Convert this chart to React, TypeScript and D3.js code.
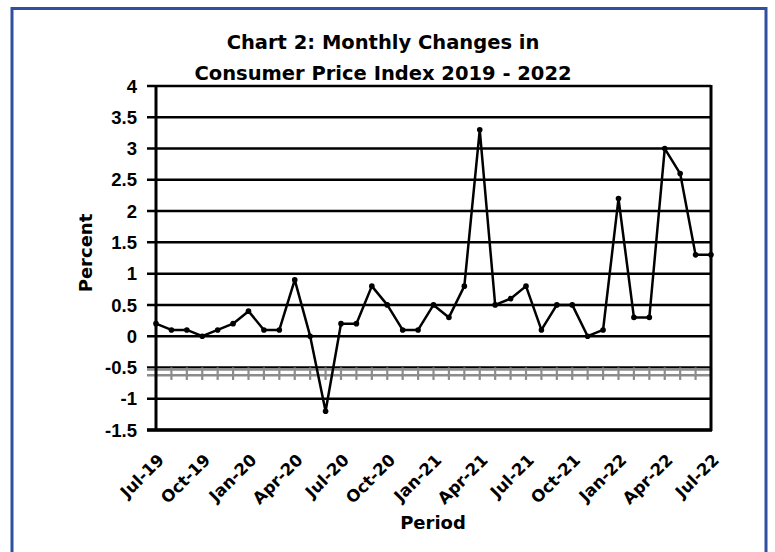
import React, { useEffect, useRef } from 'react';
import * as d3 from 'd3';

// Monthly CPI change, Jul-19 .. Jul-22
const months = [
  'Jul-19', 'Aug-19', 'Sep-19', 'Oct-19', 'Nov-19', 'Dec-19',
  'Jan-20', 'Feb-20', 'Mar-20', 'Apr-20', 'May-20', 'Jun-20',
  'Jul-20', 'Aug-20', 'Sep-20', 'Oct-20', 'Nov-20', 'Dec-20',
  'Jan-21', 'Feb-21', 'Mar-21', 'Apr-21', 'May-21', 'Jun-21',
  'Jul-21', 'Aug-21', 'Sep-21', 'Oct-21', 'Nov-21', 'Dec-21',
  'Jan-22', 'Feb-22', 'Mar-22', 'Apr-22', 'May-22', 'Jun-22',
  'Jul-22',
];
const cpiChange = [
  0.2, 0.1, 0.1, 0.0, 0.1, 0.2,
  0.4, 0.1, 0.1, 0.9, 0.0, -1.2,
  0.2, 0.2, 0.8, 0.5, 0.1, 0.1,
  0.5, 0.3, 0.8, 3.3, 0.5, 0.6,
  0.8, 0.1, 0.5, 0.5, 0.0, 0.1,
  2.2, 0.3, 0.3, 3.0, 2.6, 1.3,
  1.3,
];
const yTicks = [-1.5, -1, -0.5, 0, 0.5, 1, 1.5, 2, 2.5, 3, 3.5, 4];
const labelMonths = months.filter((_, i) => i % 3 === 0);

const App: React.FC = () => {
  const svgRef = useRef<SVGSVGElement | null>(null);

  useEffect(() => {
    if (!svgRef.current) return;
    const width = 775;
    const height = 552;
    const margin = { top: 86, right: 64, bottom: 122, left: 156 };
    const font = '"Liberation Sans", Arial, sans-serif';
    const wide = '"DejaVu Sans", sans-serif';

    const x = d3.scalePoint<string>()
      .domain(months)
      .range([margin.left, width - margin.right]);
    const y = d3.scaleLinear()
      .domain([-1.5, 4])
      .range([height - margin.bottom, margin.top]);

    const svg = d3.select(svgRef.current)
      .attr('width', width)
      .attr('height', height);
    svg.selectAll('*').remove();

    svg.append('rect')
      .attr('width', width).attr('height', height).attr('fill', '#fff');

    // outer frame
    svg.append('rect')
      .attr('x', 12).attr('y', 8.5)
      .attr('width', 754).attr('height', 560)
      .attr('fill', 'none')
      .attr('stroke', '#2f4f9f')
      .attr('stroke-width', 3);

    // title
    const title = svg.append('text')
      .attr('text-anchor', 'middle')
      .attr('font-family', wide).attr('font-weight', 700)
      .attr('font-size', 19.5).attr('fill', '#000');
    title.append('tspan').attr('x', 383).attr('y', 49).text('Chart 2: Monthly Changes in');
    title.append('tspan').attr('x', 383).attr('y', 80).text('Consumer Price Index 2019 - 2022');

    // horizontal gridlines
    svg.append('g')
      .selectAll('line')
      .data(yTicks)
      .join('line')
      .attr('x1', margin.left - 9)
      .attr('x2', width - margin.right)
      .attr('y1', d => y(d))
      .attr('y2', d => y(d))
      .attr('stroke', '#000')
      .attr('stroke-width', 2.5);

    // y tick labels
    svg.append('g')
      .selectAll('text')
      .data(yTicks)
      .join('text')
      .attr('x', margin.left - 19)
      .attr('y', d => y(d))
      .attr('dy', '0.36em')
      .attr('text-anchor', 'end')
      .attr('font-family', font).attr('font-weight', 700)
      .attr('font-size', 18.5)
      .text(d => String(d));

    // category axis (grey double line with ticks)
    const axisG = svg.append('g');
    [-0.53, -0.625].forEach(v => {
      axisG.append('line')
        .attr('x1', margin.left - 9).attr('x2', width - margin.right)
        .attr('y1', y(v)).attr('y2', y(v))
        .attr('stroke', '#8c8c8c').attr('stroke-width', 2.6);
    });
    axisG.selectAll('line.tick')
      .data(months)
      .join('line')
      .attr('class', 'tick')
      .attr('x1', d => x(d)!).attr('x2', d => x(d)!)
      .attr('y1', y(-0.5)).attr('y2', y(-0.7))
      .attr('stroke', '#8c8c8c').attr('stroke-width', 2.2);

    // vertical frame sides
    [margin.left, width - margin.right].forEach(px => {
      svg.append('line')
        .attr('x1', px).attr('x2', px)
        .attr('y1', y(4) - 1).attr('y2', y(-1.5) + 1)
        .attr('stroke', '#000').attr('stroke-width', 3);
    });
    svg.append('line')
      .attr('x1', margin.left - 9).attr('x2', width - margin.right + 1)
      .attr('y1', y(-1.5)).attr('y2', y(-1.5))
      .attr('stroke', '#000').attr('stroke-width', 3.5);

    // x labels, rotated
    svg.append('g')
      .selectAll('text')
      .data(labelMonths)
      .join('text')
      .attr('transform', d => `translate(${x(d)! + 5},${y(-1.5) + 27}) rotate(-45)`)
      .attr('text-anchor', 'end')
      .attr('dy', '0.35em')
      .attr('font-family', wide).attr('font-weight', 700)
      .attr('font-size', 16.5)
      .text(d => d);

    // axis titles
    svg.append('text')
      .attr('transform', `translate(92,253) rotate(-90)`)
      .attr('text-anchor', 'middle')
      .attr('font-family', wide).attr('font-weight', 700)
      .attr('font-size', 18)
      .text('Percent');
    svg.append('text')
      .attr('x', 433).attr('y', 529)
      .attr('text-anchor', 'middle')
      .attr('font-family', wide).attr('font-weight', 700)
      .attr('font-size', 18)
      .text('Period');

    // data line
    const line = d3.line<number>()
      .x((_, i) => x(months[i])!)
      .y(d => y(d));
    svg.append('path')
      .datum(cpiChange)
      .attr('d', line)
      .attr('fill', 'none')
      .attr('stroke', '#000')
      .attr('stroke-width', 2.5)
      .attr('stroke-linejoin', 'round');

    svg.append('g')
      .selectAll('circle')
      .data(cpiChange)
      .join('circle')
      .attr('cx', (_, i) => x(months[i])!)
      .attr('cy', d => y(d))
      .attr('r', 2.8)
      .attr('fill', '#000');
  }, []);

  return (
    <svg ref={svgRef} style={{ position: 'absolute', left: 0, top: 0, display: 'block' }} />
  );
};

export default App;
